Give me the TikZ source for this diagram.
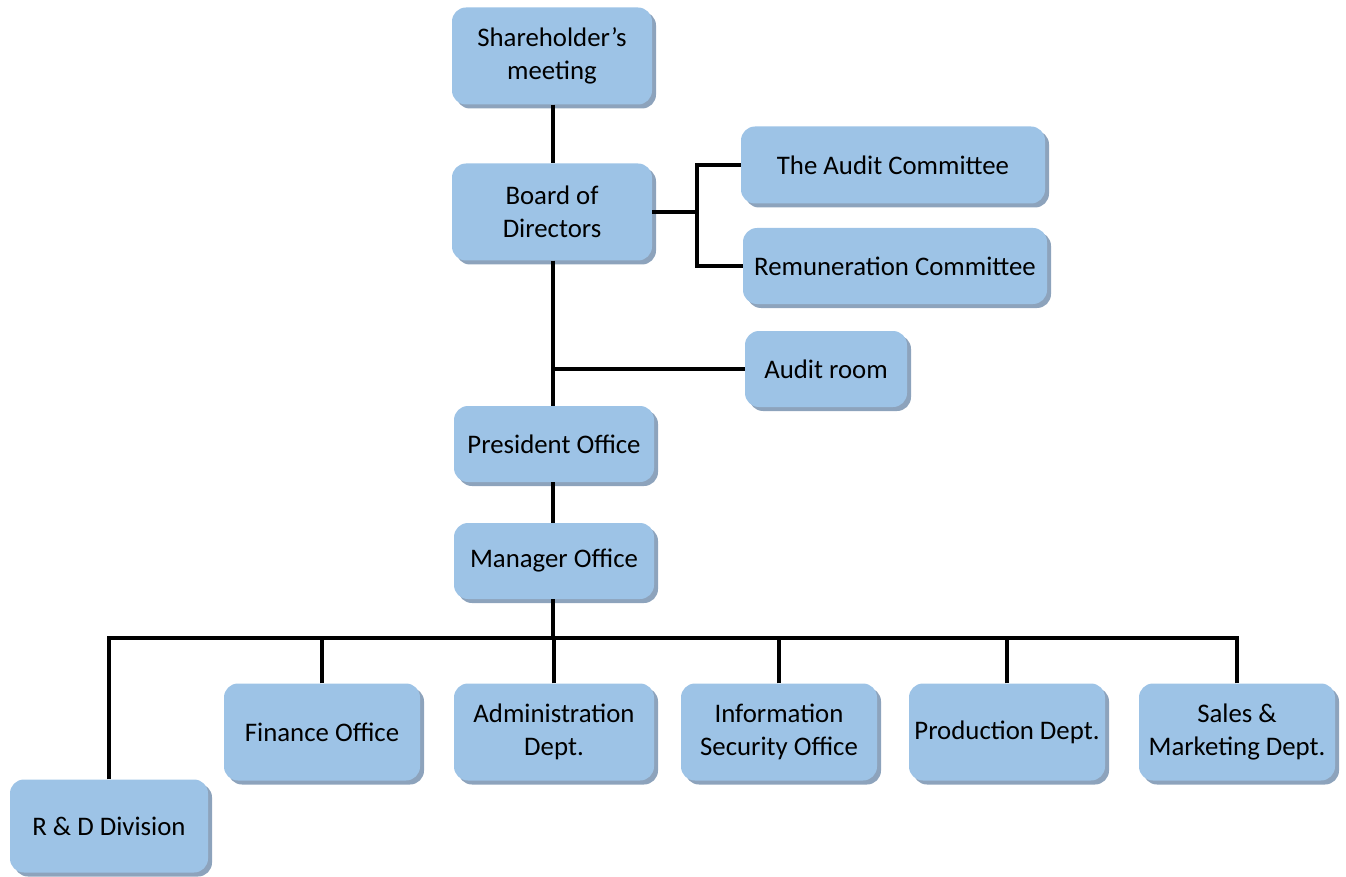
\documentclass[tikz,border=0pt]{standalone}
\usepackage{fontspec}
\setmainfont{Carlito}
\usetikzlibrary{shadows}
\definecolor{boxblue}{HTML}{9DC3E6}
\definecolor{boxshade}{HTML}{8DA3BC}
\begin{document}
\begin{tikzpicture}[x=1pt, y=-1pt,
    unit/.style={rectangle, rounded corners=14pt, fill=boxblue, align=center,
      font=\fontsize{26.8}{33}\selectfont, inner sep=2pt,
      drop shadow={shadow xshift=4pt, shadow yshift=-4pt, fill=boxshade, opacity=1}},
    wide/.style={unit, minimum width=200pt, minimum height=97pt},
    slim/.style={unit, minimum width=200pt, minimum height=76pt},
    dept/.style={unit, minimum width=196pt, minimum height=97pt},
    link/.style={line width=3.5pt}]
      \useasboundingbox (0,0) rectangle (1346,877);
      \node[wide] (share) at (552,56) {Shareholder’s\\meeting};
      \node[wide] (board) at (552,212) {Board of\\Directors};
      \node[unit, minimum width=304pt, minimum height=77pt] (auditc) at (893,165) {The Audit Committee};
      \node[unit, minimum width=304pt, minimum height=76pt] (remun) at (895,266) {Remuneration Committee};
      \node[unit, minimum width=162pt, minimum height=76pt] (aroom) at (826,369) {Audit room};
      \node[slim] (pres) at (554,444) {President Office};
      \node[slim] (mgr) at (554,561) {Manager Office};
      \node[dept] (fin) at (322,732) {Finance Office};
      \node[dept, minimum width=200pt] (adm) at (554,732) {Administration\\Dept.};
      \node[dept] (info) at (779,732) {Information\\Security Office};
      \node[dept] (prod) at (1007,732) {Production Dept.};
      \node[dept] (sales) at (1237,732) {Sales \&\\Marketing Dept.};
      \node[unit, minimum width=198pt, minimum height=93pt] (rd) at (109,826) {R \& D Division};
      \coordinate (fork) at (697,212);
      \coordinate (tap) at (553,369);
      \coordinate (bus) at (553,638);
      \draw[link] (share.south -| tap) -- (board.north -| tap);
      \draw[link] (board.east) -- (fork);
      \draw[link] (auditc.west) -| (fork) |- (remun.west);
      \draw[link] (board.south -| tap) -- (pres.north -| tap);
      \draw[link] (tap) -- (aroom.west);
      \draw[link] (pres.south -| tap) -- (mgr.north -| tap);
      \draw[link] (mgr.south -| tap) -- (bus);
      \foreach \n in {rd,fin,adm,info,prod,sales}
        \draw[link] (\n.north) |- (bus);
    \end{tikzpicture}
\end{document}
